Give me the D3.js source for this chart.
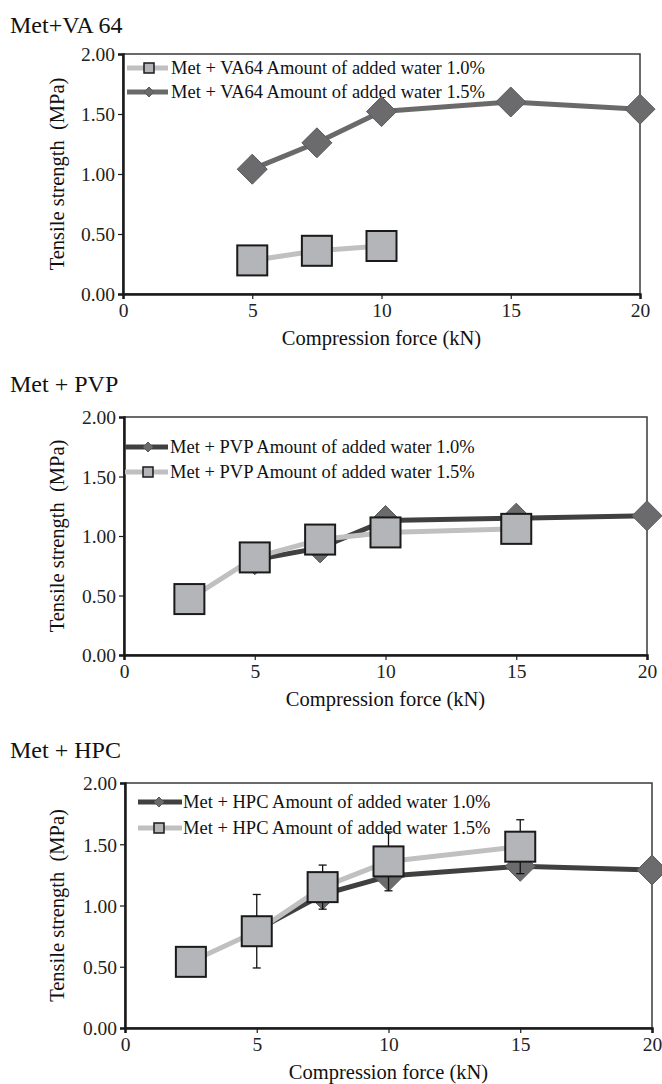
<!DOCTYPE html>
<html>
<head>
<meta charset="utf-8">
<script src="https://cdn.jsdelivr.net/npm/d3@7"></script>
<style>
  html, body { margin: 0; padding: 0; background: #fff; }
  svg { display: block; }
  svg text { font-family: "Liberation Serif", "Times New Roman", Times, serif; }
</style>
</head>
<body>
<svg id="chart" width="662" height="1084"></svg>
<script>
/* data */
const xTicks = [0, 5, 10, 15, 20];
const yTicks = [0, 0.5, 1.0, 1.5, 2.0];

const va64ForceLow = [5, 7.5, 10];
const va64Low = [0.28, 0.36, 0.40];
const va64ForceHigh = [5, 7.5, 10, 15, 20];
const va64High = [1.04, 1.26, 1.52, 1.60, 1.54];

const pvpForceLow = [5, 7.5, 10, 15, 20];
const pvpLow = [0.80, 0.90, 1.13, 1.15, 1.17];
const pvpForceHigh = [2.5, 5, 7.5, 10, 15];
const pvpHigh = [0.47, 0.82, 0.97, 1.03, 1.06];

const hpcForceLow = [5, 7.5, 10, 15, 20];
const hpcLow = [0.80, 1.09, 1.24, 1.32, 1.29];
const hpcForceHigh = [2.5, 5, 7.5, 10, 15];
const hpcHigh = [0.54, 0.79, 1.15, 1.36, 1.48];
const hpcHighErr = [0, 0.30, 0.18, 0.24, 0.22];

const LIGHT = '#c0c0c0', SQ_FILL = '#b4b5b8';

const panels = [
  {
    title: 'Met+VA 64', titleY: 25,
    box: { left: 123, right: 640, top: 54, bottom: 294 },
    legend: { y: 68, dy: 24, x0: 127, x1: 168, mx: 149, tx: 171 },
    series: [
      { label: 'Met + VA64 Amount of added water 1.0%', xs: va64ForceLow, ys: va64Low, shape: 'square', line: LIGHT },
      { label: 'Met + VA64 Amount of added water 1.5%', xs: va64ForceHigh, ys: va64High, shape: 'diamond', line: '#6a6a6a' },
    ],
  },
  {
    title: 'Met + PVP', titleY: 384,
    box: { left: 124, right: 647, top: 417, bottom: 655 },
    legend: { y: 447, dy: 25, x0: 125, x1: 168, mx: 148, tx: 170 },
    series: [
      { label: 'Met + PVP Amount of added water 1.0%', xs: pvpForceLow, ys: pvpLow, shape: 'diamond', line: '#404040' },
      { label: 'Met + PVP Amount of added water 1.5%', xs: pvpForceHigh, ys: pvpHigh, shape: 'square', line: LIGHT },
    ],
  },
  {
    title: 'Met + HPC', titleY: 750,
    box: { left: 125, right: 652, top: 783, bottom: 1028 },
    legend: { y: 802, dy: 26, x0: 138, x1: 182, mx: 159, tx: 183 },
    series: [
      { label: 'Met + HPC Amount of added water 1.0%', xs: hpcForceLow, ys: hpcLow, shape: 'diamond', line: '#404040' },
      { label: 'Met + HPC Amount of added water 1.5%', xs: hpcForceHigh, ys: hpcHigh, err: hpcHighErr, shape: 'square', line: LIGHT },
    ],
  },
];

const svg = d3.select('#chart');

function marker(g, shape, x, y, size) {
  if (shape === 'square') {
    g.append('rect')
      .attr('x', x - size / 2).attr('y', y - size / 2)
      .attr('width', size).attr('height', size)
      .attr('fill', SQ_FILL).attr('stroke', '#1a1a1a').attr('stroke-width', size > 15 ? 2 : 1.5);
  } else {
    const h = size / 2;
    g.append('path')
      .attr('d', `M${x},${y - h}L${x + h},${y}L${x},${y + h}L${x - h},${y}Z`)
      .attr('fill', '#6b6b6d').attr('stroke', '#5a5a5a').attr('stroke-width', 1);
  }
}

panels.forEach((p) => {
  const b = p.box;
  const x = d3.scaleLinear().domain([0, 20]).range([b.left, b.right]);
  const y = d3.scaleLinear().domain([0, 2]).range([b.bottom, b.top]);
  const g = svg.append('g');

  g.append('text')
    .attr('x', 10).attr('y', p.titleY).attr('dy', '0.35em')
    .attr('font-size', 24).attr('fill', '#111')
    .text(p.title);

  // frame
  g.append('rect')
    .attr('x', b.left).attr('y', b.top)
    .attr('width', b.right - b.left).attr('height', b.bottom - b.top)
    .attr('fill', 'none').attr('stroke', '#3a3a3a').attr('stroke-width', 1.5);

  const xAxis = g.append('g')
    .attr('transform', `translate(0,${b.bottom})`)
    .call(d3.axisBottom(x).tickValues(xTicks).tickSize(5).tickPadding(4).tickFormat(d3.format('d')));
  const yAxis = g.append('g')
    .attr('transform', `translate(${b.left},0)`)
    .call(d3.axisLeft(y).tickValues(yTicks).tickSize(5).tickPadding(3).tickFormat(d3.format('.2f')));

  [xAxis, yAxis].forEach((a) => {
    a.select('.domain').attr('stroke', '#1a1a1a').attr('stroke-width', 2.5);
    a.selectAll('.tick line').attr('stroke', '#1a1a1a').attr('stroke-width', 1.2);
    a.selectAll('.tick text').attr('font-size', 19.5).attr('fill', '#222');
  });
  yAxis.selectAll('.tick text').attr('dy', '0.35em');

  g.append('text')
    .attr('x', (b.left + b.right) / 2).attr('y', b.bottom + 44).attr('dy', '0.35em')
    .attr('text-anchor', 'middle').attr('font-size', 20.5).attr('fill', '#111')
    .text('Compression force (kN)');

  g.append('text')
    .attr('transform', `translate(57,${(b.top + b.bottom) / 2}) rotate(-90)`)
    .attr('dy', '0.35em')
    .attr('text-anchor', 'middle').attr('font-size', 20.5).attr('fill', '#111')
    .text('Tensile strength\u00a0\u00a0(MPa)');

  // legend
  const lg = p.legend;
  p.series.forEach((s, i) => {
    const ly = lg.y + i * lg.dy;
    g.append('line')
      .attr('x1', lg.x0).attr('x2', lg.x1).attr('y1', ly).attr('y2', ly)
      .attr('stroke', s.line).attr('stroke-width', 5);
    marker(g, s.shape, lg.mx, ly, 10);
    g.append('text')
      .attr('x', lg.tx).attr('y', ly).attr('dy', '0.35em')
      .attr('font-size', 18.5).attr('fill', '#111')
      .text(s.label);
  });

  // series, in drawing order
  p.series.forEach((s) => {
    const pts = s.xs.map((v, i) => ({ x: v, y: s.ys[i], e: s.err ? s.err[i] : 0 }));
    g.append('path')
      .datum(pts)
      .attr('fill', 'none').attr('stroke', s.line).attr('stroke-width', 5)
      .attr('stroke-linejoin', 'round')
      .attr('d', d3.line().x((d) => x(d.x)).y((d) => y(d.y)));

    if (s.err) {
      pts.filter((d) => d.e > 0).forEach((d) => {
        const cx = x(d.x);
        const eg = g.append('g').attr('stroke', '#111').attr('stroke-width', 1.3);
        eg.append('line').attr('x1', cx).attr('x2', cx).attr('y1', y(d.y - d.e)).attr('y2', y(d.y + d.e));
        [d.y - d.e, d.y + d.e].forEach((v) => {
          eg.append('line').attr('x1', cx - 4).attr('x2', cx + 4).attr('y1', y(v)).attr('y2', y(v));
        });
      });
    }

    pts.forEach((d) => marker(g, s.shape, x(d.x), y(d.y), 30));
  });
});
</script>
</body>
</html>
